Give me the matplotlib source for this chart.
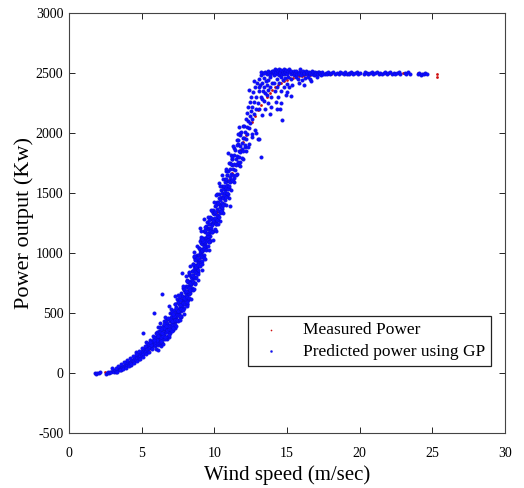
import matplotlib
matplotlib.use("Agg")
import matplotlib.pyplot as plt
import numpy as np

# (wind speed m/s, power kW)
gp_low = [
    (1.78, 2), (1.85, -6), (1.92, 4), (2.05, -3), (2.12, 6), (2.55, -5), (2.62, 3), (2.7, 8),
    (2.78, -2), (2.85, 12), (2.92, 6), (3.0, 14), (3.05, 22), (3.12, 10), (3.18, 26), (3.25, 18),
    (3.3, 32), (3.36, 24), (3.42, 40), (3.48, 30), (3.52, 46), (3.58, 36), (3.62, 52), (3.68, 44),
    (3.74, 60), (3.8, 50), (3.85, 68), (3.9, 58), (3.95, 76), (4.0, 64), (4.04, 86), (4.1, 72),
    (4.15, 92), (4.2, 80), (4.24, 100), (4.3, 88), (4.35, 108), (4.4, 96), (4.45, 118), (4.5, 104),
    (4.55, 126), (4.6, 112), (4.64, 138), (4.7, 122), (4.75, 148), (4.8, 132), (4.85, 160), (4.9, 142),
    (4.95, 170), (5.0, 150), (5.05, 182), (5.1, 160), (5.14, 195), (5.2, 172), (5.25, 205), (5.3, 184),
    (5.35, 220), (5.4, 196), (5.45, 232), (5.5, 205), (5.55, 245), (5.6, 218), (5.65, 258), (5.7, 230),
    (5.75, 270), (5.8, 240), (5.85, 285), (5.9, 252), (5.95, 296), (6.0, 262),
    (5.1, 330), (5.85, 500), (4.6, 175), (5.3, 260), (3.9, 95), (2.95, 40),
    (4.25, 70), (4.82, 118), (5.42, 175), (5.72, 212), (3.2, 12), (3.6, 28),
    (3.3, 10), (3.5, 22), (3.7, 32), (3.9, 45), (4.1, 58), (4.3, 72), (4.5, 85), (4.7, 100),
    (4.9, 118), (5.1, 135), (5.3, 155), (5.5, 178), (5.7, 200), (5.9, 222),
    (3.2, 45), (3.4, 58), (3.6, 72), (3.8, 88), (4.0, 105), (4.2, 122), (4.4, 140), (4.6, 158),
    (4.8, 180), (5.0, 205), (5.2, 228), (5.4, 252), (5.6, 278), (5.8, 305), (6.0, 330),
]

gp_mid = [
    (6.01, 200), (6.04, 340), (6.07, 278), (6.1, 235), (6.12, 382), (6.15, 316), (6.17, 258), (6.19, 351), (6.09, 189),
    (6.22, 314), (6.25, 238), (6.28, 387), (6.31, 300), (6.33, 228), (6.36, 361), (6.38, 294), (6.23, 415), (6.34, 324),
    (6.41, 247), (6.44, 392), (6.47, 326), (6.5, 285), (6.52, 433), (6.55, 367), (6.57, 310), (6.59, 403), (6.49, 239),
    (6.62, 367), (6.65, 292), (6.68, 442), (6.71, 357), (6.73, 285), (6.76, 420), (6.78, 353), (6.63, 470), (6.74, 381),
    (6.81, 305), (6.84, 451), (6.87, 386), (6.9, 347), (6.92, 496), (6.95, 431), (6.97, 375), (6.99, 469), (6.89, 300),
    (7.02, 434), (7.05, 360), (7.08, 511), (7.11, 427), (7.13, 356), (7.16, 492), (7.18, 426), (7.03, 536), (7.14, 453),
    (7.21, 382), (7.24, 528), (7.27, 464), (7.3, 425), (7.32, 574), (7.35, 510), (7.37, 454), (7.39, 548), (7.29, 378),
    (7.42, 511), (7.45, 438), (7.48, 590), (7.51, 507), (7.53, 437), (7.56, 574), (7.58, 509), (7.43, 613), (7.54, 535),
    (7.61, 468), (7.64, 615), (7.67, 553), (7.7, 515), (7.72, 665), (7.75, 602), (7.77, 548), (7.79, 643), (7.69, 468),
    (7.82, 608), (7.85, 536), (7.88, 689), (7.91, 608), (7.93, 538), (7.96, 677), (7.98, 612), (7.83, 711), (7.94, 636),
    (8.01, 573), (8.04, 722), (8.07, 661), (8.1, 625), (8.12, 776), (8.15, 715), (8.17, 661), (8.19, 757), (8.09, 577),
    (8.22, 729), (8.25, 659), (8.28, 814), (8.31, 733), (8.33, 665), (8.36, 804), (8.38, 741), (8.23, 832), (8.34, 763),
    (8.41, 699), (8.44, 850), (8.47, 790), (8.5, 755), (8.52, 907), (8.55, 847), (8.57, 794), (8.59, 891), (8.49, 707),
    (8.62, 863), (8.65, 793), (8.68, 948), (8.71, 868), (8.73, 800), (8.76, 940), (8.78, 877), (8.63, 966), (8.74, 899),
    (8.81, 834), (8.84, 985), (8.87, 925), (8.9, 890), (8.92, 1042), (8.95, 982), (8.97, 929), (8.99, 1026), (8.89, 842),
    (9.02, 996), (9.05, 927), (9.08, 1083), (9.11, 1004), (9.13, 936), (9.16, 1077), (9.18, 1014), (9.03, 1100), (9.14, 1034),
    (9.21, 978), (9.24, 1128), (9.27, 1069), (9.3, 1035), (9.32, 1187), (9.35, 1128), (9.37, 1075), (9.39, 1172), (9.29, 986),
    (9.42, 1122), (9.45, 1052), (9.48, 1208), (9.51, 1129), (9.53, 1061), (9.56, 1201), (9.58, 1138), (9.43, 1225), (9.54, 1159),
    (9.61, 1088), (9.64, 1238), (9.67, 1179), (9.7, 1145), (9.72, 1297), (9.75, 1238), (9.77, 1185), (9.79, 1282), (9.69, 1096),
    (9.82, 1247), (9.85, 1178), (9.88, 1333), (9.91, 1254), (9.93, 1186), (9.96, 1326), (9.98, 1263), (9.83, 1350), (9.94, 1284),
    (6.4, 660), (7.8, 830), (7.3, 640), (8.6, 1010), (9.0, 1210), (9.3, 1280), (8.2, 610), (8.9, 860),
    (7.1, 370), (7.6, 480), (9.6, 1120), (8.4, 690), (9.1, 1180), (6.9, 560), (7.5, 650),
]

gp_core = [
    (6.06, 262), (6.11, 285), (6.16, 275), (6.26, 285), (6.31, 310), (6.36, 300),
    (6.46, 310), (6.51, 338), (6.56, 328), (6.66, 338), (6.71, 368), (6.76, 360),
    (6.86, 370), (6.91, 400), (6.96, 392), (7.06, 405), (7.11, 440), (7.16, 432),
    (7.26, 445), (7.31, 480), (7.36, 472), (7.46, 485), (7.51, 522), (7.56, 515),
    (7.66, 532), (7.71, 572), (7.76, 565), (7.86, 582), (7.91, 625), (7.96, 618),
    (8.06, 640), (8.11, 685), (8.16, 680), (8.26, 705), (8.31, 750), (8.36, 745),
    (8.46, 770), (8.51, 815), (8.56, 812), (8.66, 840), (8.71, 885), (8.76, 882),
    (8.86, 905), (8.91, 950), (8.96, 948), (9.06, 975), (9.11, 1020), (9.16, 1018),
    (9.26, 1050), (9.31, 1095), (9.36, 1090), (9.46, 1100), (9.51, 1145), (9.56, 1142),
    (9.66, 1165), (9.71, 1210), (9.76, 1205), (9.86, 1235), (9.91, 1280), (9.96, 1275),
]

gp_wide = [
    (5.5, 245), (5.64, 235), (5.95, 238), (6.08, 250), (5.75, 268), (5.92, 255), (6.1, 262), (6.24, 258),
    (5.9, 290), (6.04, 276), (6.36, 285), (6.5, 280), (6.15, 315), (6.32, 300), (6.5, 310), (6.64, 304),
    (6.28, 342), (6.43, 330), (6.76, 338), (6.92, 332), (6.55, 375), (6.72, 360), (6.9, 368), (7.04, 362),
    (6.68, 410), (6.84, 395), (7.16, 402), (7.3, 398), (6.95, 452), (7.12, 435), (7.3, 444), (7.44, 438),
    (7.08, 492), (7.23, 475), (7.55, 484), (7.7, 478), (7.35, 538), (7.52, 520), (7.7, 530), (7.84, 522),
    (7.48, 590), (7.63, 568), (7.95, 578), (8.1, 572), (7.75, 645), (7.92, 625), (8.1, 635), (8.24, 628),
    (7.88, 700), (8.03, 684), (8.35, 694), (8.5, 688), (8.15, 770), (8.32, 750), (8.5, 760), (8.64, 752),
    (8.28, 838), (8.43, 818), (8.75, 830), (8.9, 822), (8.55, 910), (8.72, 890), (8.9, 900), (9.04, 892),
    (8.68, 972), (8.83, 955), (9.15, 964), (9.3, 958), (8.95, 1045), (9.12, 1025), (9.3, 1035), (9.44, 1028),
    (9.08, 1118), (9.23, 1098), (9.55, 1110), (9.7, 1100), (9.35, 1190), (9.52, 1170), (9.7, 1180), (9.84, 1172),
    (9.48, 1262), (9.63, 1244), (9.95, 1255), (10.1, 1248), (9.75, 1295), (9.92, 1275), (10.1, 1285), (10.24, 1278),
    (9.9, 1360), (10.04, 1340), (10.36, 1350), (10.5, 1342), (10.15, 1425), (10.32, 1405), (10.5, 1415), (10.64, 1408),
    (10.3, 1488), (10.44, 1470), (10.76, 1480), (10.9, 1472), (10.55, 1555), (10.72, 1535), (10.9, 1545), (11.04, 1538),
    (10.7, 1620), (10.85, 1600), (11.16, 1610), (11.3, 1600), (11.1, 1750), (11.25, 1730), (11.56, 1740), (11.7, 1732),
]

gp_edge = [
    (5.6, 262), (6.36, 255), (5.84, 295), (6.6, 285), (6.06, 326), (6.9, 315), (6.32, 368), (7.12, 352),
    (6.56, 410), (7.36, 392), (6.83, 462), (7.62, 440), (7.06, 512), (7.88, 490), (7.32, 578), (8.12, 555),
    (7.57, 645), (8.38, 620), (7.82, 725), (8.62, 698), (8.07, 805), (8.88, 778), (8.33, 890), (9.12, 862),
    (8.57, 975), (9.38, 948), (8.83, 1055), (9.62, 1028), (9.07, 1136), (9.88, 1106), (9.33, 1216), (10.12, 1186),
    (9.57, 1296), (10.38, 1268), (9.78, 1360), (10.58, 1332), (9.97, 1425), (10.78, 1398), (10.18, 1490), (10.98, 1462),
    (10.37, 1556), (11.18, 1528), (10.58, 1620), (11.38, 1592), (10.77, 1686), (11.58, 1656), (10.98, 1750), (11.78, 1722),
    (11.17, 1816), (11.98, 1786), (11.38, 1876), (12.18, 1846), (11.58, 1940), (12.38, 1910), (11.78, 2000), (12.58, 1970),
    (11.98, 2056), (12.78, 2025),
    (5.86, 274), (6.34, 266), (6.15, 312), (6.63, 300), (6.64, 390), (7.14, 376), (7.14, 490), (7.64, 472),
    (7.64, 612), (8.14, 590), (8.14, 770), (8.64, 742), (8.64, 940), (9.14, 912), (9.14, 1120), (9.64, 1092),
    (9.64, 1275), (10.14, 1245), (10.04, 1392), (10.54, 1365), (10.44, 1522), (10.94, 1495), (10.84, 1652), (11.34, 1625),
    (11.24, 1782), (11.74, 1755), (11.64, 1906), (12.14, 1880),
]

gp_high = [
    (10.02, 1200), (10.05, 1340), (10.08, 1290), (10.1, 1245), (10.12, 1400), (10.15, 1320), (10.18, 1275),
    (10.2, 1370), (10.22, 1310), (10.25, 1240), (10.28, 1420), (10.3, 1350), (10.32, 1300), (10.35, 1460),
    (10.38, 1380), (10.4, 1330), (10.42, 1440), (10.45, 1395), (10.48, 1350), (10.5, 1500), (10.52, 1420),
    (10.55, 1380), (10.58, 1530), (10.6, 1460), (10.62, 1400), (10.65, 1560), (10.68, 1480), (10.7, 1440),
    (10.72, 1590), (10.75, 1510), (10.78, 1470), (10.8, 1620), (10.82, 1540), (10.85, 1500), (10.88, 1650),
    (10.9, 1570), (10.92, 1530), (10.95, 1680), (10.98, 1600), (10.3, 1580), (10.5, 1650), (10.1, 1480),
    (11.1, 1390), (10.8, 1700),
    (11.02, 1560), (11.05, 1700), (11.08, 1630), (11.1, 1590), (11.14, 1740), (11.18, 1660), (11.2, 1610),
    (11.24, 1780), (11.28, 1700), (11.3, 1650), (11.34, 1820), (11.38, 1740), (11.4, 1690), (11.44, 1860),
    (11.48, 1780), (11.5, 1730), (11.54, 1900), (11.58, 1810), (11.6, 1760), (11.64, 1940), (11.68, 1850),
    (11.7, 1800), (11.74, 1980), (11.78, 1890), (11.8, 1840), (11.84, 2010), (11.88, 1920), (11.92, 1870),
    (11.96, 1960), (11.2, 1800), (11.6, 1990), (11.5, 1650), (11.9, 1790), (10.95, 1830), (11.3, 1890),
    (11.7, 2050), (12.0, 1850),
    (12.02, 1960), (12.05, 2060), (12.08, 1900), (12.12, 2010), (12.15, 2120), (12.18, 1950), (12.22, 2050),
    (12.25, 2170), (12.28, 1990), (12.32, 2100), (12.35, 2220), (12.38, 2040), (12.42, 2140), (12.45, 2260),
    (12.48, 2080), (12.52, 2180), (12.55, 2300), (12.6, 2120), (12.62, 2220), (12.65, 2340), (12.7, 2160),
    (12.75, 2260), (12.78, 2380), (12.85, 2200), (12.9, 2300), (12.95, 2420), (12.6, 1990), (12.9, 2000),
    (13.0, 1950), (12.3, 1880), (12.4, 2360), (12.7, 2430), (13.2, 1800), (13.1, 1950),
    (13.02, 2250), (13.05, 2350), (13.08, 2450), (13.1, 2200), (13.15, 2400), (13.18, 2300), (13.22, 2480),
    (13.25, 2150), (13.3, 2420), (13.32, 2350), (13.36, 2500), (13.4, 2270), (13.42, 2460), (13.45, 2380),
    (13.5, 2510), (13.52, 2200), (13.55, 2430), (13.6, 2490), (13.62, 2320), (13.66, 2520), (13.7, 2250),
    (13.72, 2440), (13.76, 2500), (13.8, 2380), (13.82, 2160), (13.86, 2470), (13.9, 2510), (13.92, 2300),
    (13.95, 2420), (13.98, 2520), (13.3, 2280), (13.5, 2330), (13.7, 2360), (13.9, 2220), (13.2, 2510),
    (13.4, 2500), (13.6, 2400), (13.8, 2480), (13.1, 2380),
]

gp_knee = [
    (14.02, 2500), (14.05, 2520), (14.08, 2480), (14.1, 2420), (14.12, 2510), (14.15, 2350), (14.18, 2530),
    (14.2, 2490), (14.22, 2260), (14.25, 2505), (14.28, 2450), (14.3, 2525), (14.32, 2380), (14.35, 2495),
    (14.38, 2515), (14.4, 2300), (14.42, 2480), (14.45, 2530), (14.48, 2420), (14.5, 2510), (14.52, 2200),
    (14.55, 2500), (14.58, 2470), (14.6, 2525), (14.62, 2350), (14.65, 2490), (14.68, 2110), (14.7, 2515),
    (14.72, 2440), (14.75, 2500), (14.78, 2380), (14.8, 2530), (14.82, 2490), (14.85, 2460), (14.88, 2510),
    (14.9, 2320), (14.92, 2500), (14.95, 2525), (14.98, 2410), (15.0, 2495), (15.05, 2515), (15.1, 2470),
    (15.12, 2530), (15.15, 2380), (15.2, 2505), (15.25, 2490), (15.28, 2450), (15.3, 2520), (15.35, 2400),
    (15.4, 2500), (15.45, 2480), (15.5, 2515), (14.3, 2200), (14.6, 2250), (15.0, 2340), (15.3, 2310),
    (15.55, 2500), (15.6, 2470), (15.65, 2520), (15.7, 2490), (15.75, 2450), (15.8, 2510), (15.85, 2495),
    (15.9, 2530), (15.95, 2480), (16.0, 2505), (16.05, 2440), (16.1, 2515), (16.15, 2490), (16.2, 2500),
    (16.25, 2460), (16.3, 2520), (16.35, 2495), (16.4, 2505), (16.45, 2470), (16.5, 2510), (16.55, 2490),
    (16.6, 2500), (16.65, 2430), (16.7, 2515), (16.75, 2495), (16.8, 2505), (16.85, 2480), (16.9, 2510),
    (16.95, 2495), (17.0, 2500), (17.05, 2470), (17.1, 2505), (17.15, 2490), (17.2, 2510), (17.25, 2495),
    (17.3, 2500), (17.35, 2485), (17.4, 2505), (17.45, 2495), (15.8, 2420), (16.2, 2400), (16.6, 2450),
]

gp_plateau = [
    (17.6, 2495), (17.7, 2500), (17.75, 2490), (17.85, 2505), (17.95, 2495), (18.05, 2500), (18.2, 2505),
    (18.3, 2495), (18.45, 2500), (18.6, 2490), (18.65, 2505), (18.8, 2500), (18.9, 2495), (19.0, 2505),
    (19.1, 2495), (19.25, 2500), (19.3, 2490), (19.4, 2505), (19.5, 2500), (19.55, 2495), (19.7, 2500),
    (19.8, 2505), (19.9, 2495), (20.0, 2500), (20.3, 2495), (20.4, 2505), (20.5, 2500), (20.6, 2490),
    (20.7, 2500), (20.85, 2505), (20.95, 2495), (21.05, 2500), (21.2, 2505), (21.3, 2495), (21.4, 2500),
    (21.55, 2490), (21.65, 2500), (21.75, 2505), (21.85, 2495), (21.95, 2500), (22.1, 2505), (22.2, 2495),
    (22.35, 2500), (22.45, 2490), (22.55, 2500), (22.7, 2505), (22.8, 2495), (23.1, 2500), (23.2, 2490),
    (23.3, 2505), (23.45, 2495), (24.0, 2490), (24.1, 2500), (24.2, 2485), (24.3, 2495), (24.4, 2490),
    (24.5, 2500), (24.6, 2495),
]

measured_speed = [1.8, 2.0, 2.5, 3.0, 3.5, 4.0, 4.5, 5.0, 5.5, 6.0, 6.5, 7.0, 7.5, 8.0, 8.5, 9.0, 9.5,
                  10.0, 10.2, 10.4, 10.6, 10.8, 11.0, 11.2, 11.4, 11.6, 11.8, 12.0, 12.2, 12.4, 12.6,
                  12.8, 13.0, 13.2, 13.4, 13.6, 13.8, 14.0, 14.2, 14.4, 14.6, 14.8, 15.0, 15.2, 15.4,
                  15.6, 15.8, 16.0, 16.2, 16.4, 16.6, 16.8, 17.0, 17.2, 17.4, 17.6, 17.8, 18.0,
                  19.0, 20.0, 21.0, 22.0, 23.0, 24.0, 25.3, 25.3]
measured_power = [0, 2, 5, 15, 35, 65, 100, 145, 200, 260, 320, 400, 500, 630, 790, 960, 1120,
                  1280, 1345, 1410, 1475, 1540, 1605, 1670, 1735, 1800, 1860, 1925, 1985, 2040, 2095,
                  2145, 2190, 2230, 2265, 2300, 2330, 2355, 2380, 2400, 2420, 2435, 2445, 2455, 2462,
                  2468, 2473, 2477, 2480, 2483, 2486, 2488, 2490, 2491, 2492, 2493, 2494, 2495,
                  2496, 2497, 2497, 2498, 2498, 2498, 2470, 2492]

gp = np.array(gp_low + gp_mid + gp_core + gp_wide + gp_edge + gp_high + gp_knee + gp_plateau)

plt.rcParams['font.family'] = ['Liberation Serif', 'DejaVu Serif']
plt.rcParams['axes.unicode_minus'] = False

fig = plt.figure(figsize=(5.24, 4.88), dpi=100)
ax = fig.add_axes([0.1317, 0.1127, 0.8320, 0.8607])

ax.scatter(measured_speed, measured_power, s=4, color='#d01010', linewidths=0,
           label='Measured Power', zorder=2)
ax.scatter(gp[:, 0], gp[:, 1], s=7, color='#0c0cff', edgecolors='#0a0aa8', linewidths=0.15,
           label='Predicted power using GP', zorder=3)

ax.set_xlim(0, 30)
ax.set_ylim(-500, 3000)
ax.set_xticks(np.arange(0, 31, 5))
ax.set_yticks(np.arange(-500, 3001, 500))
ax.tick_params(direction='in', top=True, right=True, length=4.5, width=0.6, labelsize=10)
ax.tick_params(axis='x', pad=10)
ax.tick_params(axis='y', pad=4)
for sp in ax.spines.values():
    sp.set_color('#444444')
    sp.set_linewidth(0.8)

ax.set_xlabel('Wind speed (m/sec)', fontsize=15, labelpad=4)
ax.set_ylabel('Power output (Kw)', fontsize=16, labelpad=1)

leg = ax.legend(loc='lower right', bbox_to_anchor=(0.968, 0.16), borderaxespad=0,
                fancybox=False, edgecolor='#222222', fontsize=12.5, markerscale=0.6,
                handletextpad=0.8, borderpad=0.35, labelspacing=0.3, framealpha=1)
leg.get_frame().set_linewidth(0.9)

fig.savefig('out.png', dpi=100)
